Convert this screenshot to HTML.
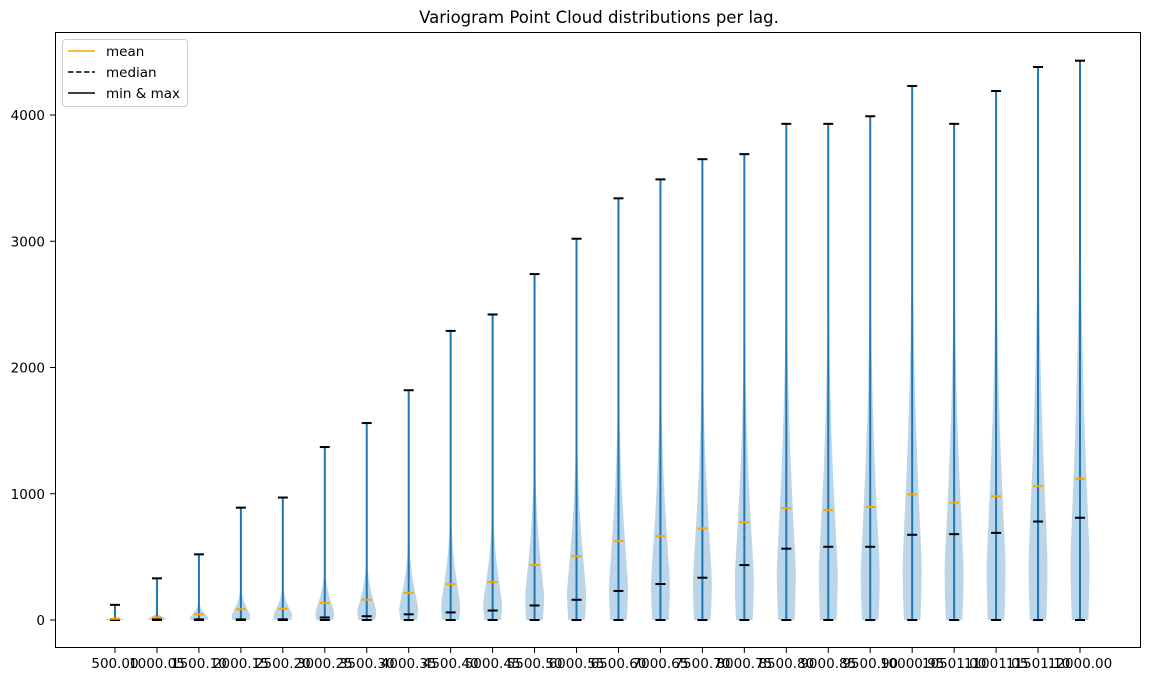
<!DOCTYPE html>
<html><head><meta charset="utf-8"><style>
body{margin:0;background:#fff}
svg text{font-family:"DejaVu Sans","Liberation Sans",sans-serif}
</style></head><body>
<svg id="chart" width="1149" height="682" xmlns="http://www.w3.org/2000/svg">
<rect width="1149" height="682" fill="#fff"/>
<text x="599" y="23" font-size="16.5" text-anchor="middle">Variogram Point Cloud distributions per lag.</text>
<g id="plot"></g>
<rect x="55.5" y="32.5" width="1085" height="615" fill="none" stroke="#000" stroke-width="1"/>
<g>
<rect x="62.5" y="39.5" width="125" height="67" rx="3" fill="#fff" fill-opacity="0.8" stroke="#ccc"/>
<line x1="68" y1="51" x2="95" y2="51" stroke="orange" stroke-width="1.5"/>
<text x="106" y="56" font-size="13.5">mean</text>
<line x1="68" y1="72" x2="95" y2="72" stroke="#000" stroke-width="1.5" stroke-dasharray="5.5,2.5"/>
<text x="106" y="77" font-size="13.5">median</text>
<line x1="68" y1="93" x2="95" y2="93" stroke="#000" stroke-width="1.5"/>
<text x="106" y="98" font-size="13.5">min &amp; max</text>
</g>
</svg>
<script>
const lags = ["500.00","1000.05","1500.10","2000.15","2500.20","3000.25","3500.30","4000.35","4500.40","5000.45","5500.50","6000.55","6500.60","7000.65","7500.70","8000.75","8500.80","9000.85","9500.90","10000.95","10501.00","11001.05","11501.10","12000.00"];
const maxVals = [120,330,520,890,970,1370,1560,1820,2290,2420,2740,3020,3340,3490,3650,3690,3930,3930,3990,4230,3930,4190,4380,4430];
const meanVals = [10,20,45,85,90,135,160,215,285,300,435,505,625,665,725,775,885,870,895,995,930,980,1060,1120];
const medianVals = [5,5,5,5,5,20,30,45,60,75,115,160,230,285,335,435,565,580,580,675,680,690,780,810];
const minVals = [0,0,0,0,0,0,0,0,0,0,0,0,0,0,0,0,0,0,0,0,0,0,0,0];
const yTicks = [0,1000,2000,3000,4000];

const NS="http://www.w3.org/2000/svg";
const g=document.getElementById('plot');
const x0=115,x1=1080;
const xs=i=>x0+(x1-x0)*i/(lags.length-1);
const ys=v=>620-v*(620-115)/4000;
function mk(t,a){const e=document.createElementNS(NS,t);for(const k in a)e.setAttribute(k,a[k]);g.appendChild(e);return e;}

yTicks.forEach(t=>{
  const l=mk('line',{x1:55,x2:50,y1:ys(t),y2:ys(t),stroke:'#000'});
  
  
  const tx=mk('text',{x:45,y:ys(t)+5,'font-size':13.5,'text-anchor':'end'});
  tx.textContent=t;
  
  
});

lags.forEach((lab,i)=>{
  const cx=xs(i);
  const hw=11;
  const s=1.5*meanVals[i];
  let right=[],left=[];
  const N=40;
  for(let k=0;k<=N;k++){
    const v=minVals[i]+(maxVals[i]-minVals[i])*k/N;
    let w=Math.exp(-Math.pow(v/s,1.6));
    w*= (0.75+0.25*Math.min(1,v/(0.3*s+1e-9)));
    if(k===N) w=0;
    const y=ys(v);
    right.push((cx+hw*w).toFixed(1)+','+y.toFixed(1));
    left.unshift((cx-hw*w).toFixed(1)+','+y.toFixed(1));
  }
  const p=mk('polygon',{points:right.concat(left).join(' '),fill:'#1f77b4','fill-opacity':0.3});
  
  
  const v=mk('line',{x1:cx,x2:cx,y1:ys(minVals[i]),y2:ys(maxVals[i]),stroke:'#1f77b4','stroke-width':2});
  
  
  [[maxVals[i],'#000','max-cap'],[minVals[i],'#000','min-cap'],[medianVals[i],'#000','median-marker'],[meanVals[i],'orange','mean-marker']].forEach(([val,c,n])=>{
    const l=mk('line',{x1:cx-5,x2:cx+5,y1:ys(val),y2:ys(val),stroke:c,'stroke-width':2});
    
    
  });
  const t=mk('line',{x1:cx,x2:cx,y1:648,y2:653,stroke:'#000'});
  
  
  const tx=mk('text',{x:cx,y:668,'font-size':13.5,'text-anchor':'middle'});
  tx.textContent=lab;
  
  
});
</script>
</body></html>
